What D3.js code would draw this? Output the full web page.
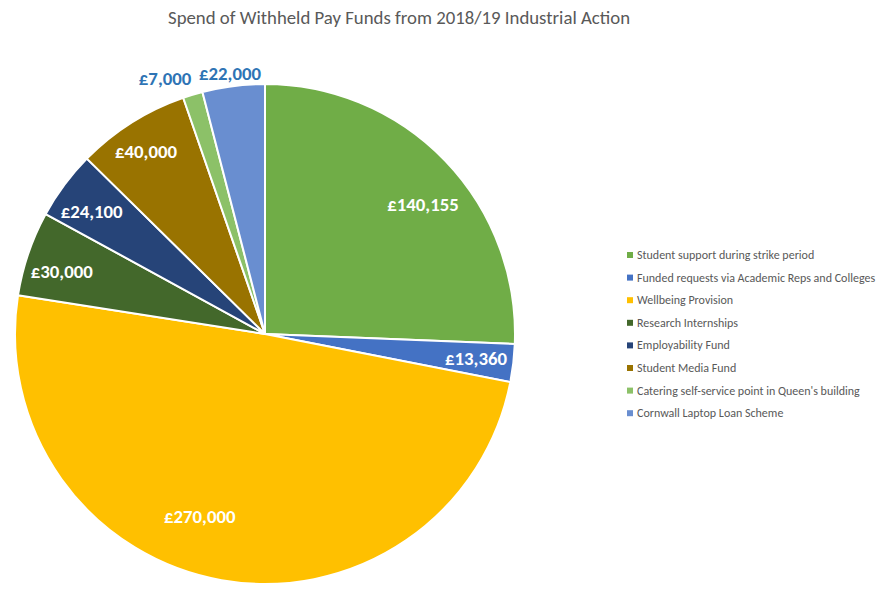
<!DOCTYPE html>
<html><head><meta charset="utf-8">
<script src="https://cdn.jsdelivr.net/npm/d3@7"></script>
<style>body{margin:0;background:#fff}</style>
</head><body>
<svg id="chart" width="891" height="596"></svg>
<script>
const categories = ["Student support during strike period","Funded requests via Academic Reps and Colleges","Wellbeing Provision","Research Internships","Employability Fund","Student Media Fund","Catering self-service point in Queen's building","Cornwall Laptop Loan Scheme"];
const values = [140155, 13360, 270000, 30000, 24100, 40000, 7000, 22000];
const valueLabels = ["£140,155","£13,360","£270,000","£30,000","£24,100","£40,000","£7,000","£22,000"];
const colors = ["#70AD47","#4472C4","#FFC000","#43682B","#264478","#997300","#8CC168","#698ED0"];
// label placement style (radius factor, angle shift in degrees, outside?)
const labelRadius = [0.816,0.85,0.777,0.85,0.85,0.87,1.096,1.053];
const labelShift = [4.6,0,9.6,-1.8,-1.3,-0.9,-4.6,-0.4];
const labelOutside = [false,false,false,false,false,false,true,true];

const svg = d3.select("#chart");
const cx = 265, cy = 334, R = 250;
const font = "Calibri, Carlito, Lato, 'Open Sans', sans-serif";

svg.append("text").attr("x", 399).attr("y", 24).attr("text-anchor","middle")
  .attr("font-family", font).attr("font-size", 18.8).attr("fill","#595959")
  .text("Spend of Withheld Pay Funds from 2018/19 Industrial Action");

const pie = d3.pie().sort(null).value(d => d)(values);
const arc = d3.arc().innerRadius(0).outerRadius(R);
const g = svg.append("g").attr("transform", `translate(${cx},${cy})`);
g.selectAll("path").data(pie).join("path")
  .attr("d", arc).attr("fill", (d,i) => colors[i])
  .attr("stroke","#fff").attr("stroke-width",2).attr("stroke-linejoin","round");

g.selectAll("text.lbl").data(pie).join("text").attr("class","lbl")
  .each(function(d,i){
    const a = (d.startAngle + d.endAngle)/2 + labelShift[i]*Math.PI/180;
    const r = R*labelRadius[i];
    d3.select(this).attr("x", r*Math.sin(a)).attr("y", -r*Math.cos(a));
  })
  .attr("text-anchor","middle").attr("dominant-baseline","central")
  .attr("font-family", font).attr("font-weight","bold").attr("font-size",18.8)
  .attr("fill", (d,i) => labelOutside[i] ? "#2E74B5" : "#fff")
  .text((d,i) => valueLabels[i]);

const leg = svg.append("g").attr("transform","translate(627,255)");
const rows = leg.selectAll("g").data(categories).join("g")
  .attr("transform",(d,i)=>`translate(0,${i*22.6})`);
rows.append("rect").attr("x",0).attr("y",-3).attr("width",6).attr("height",6)
  .attr("fill",(d,i)=>colors[i]);
rows.append("text").attr("x",10).attr("y",0).attr("dominant-baseline","central")
  .attr("font-family", font).attr("font-size",12).attr("fill","#595959").text(d=>d);
</script>
</body></html>
